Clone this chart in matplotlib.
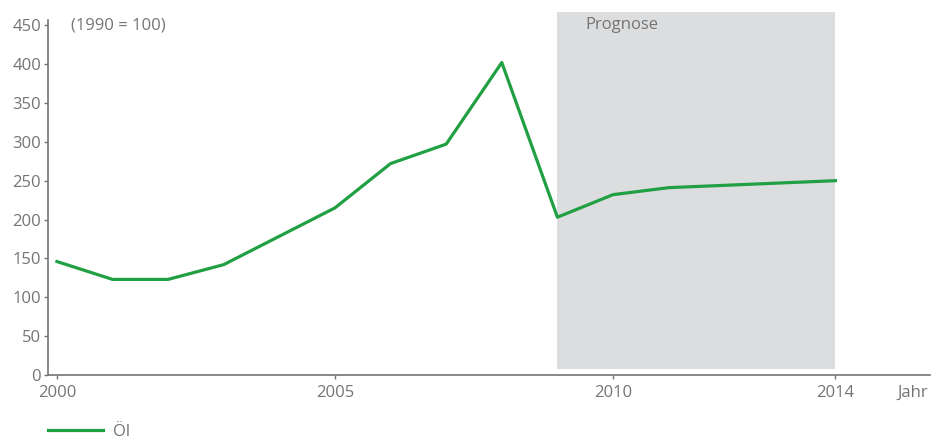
import matplotlib
matplotlib.use('Agg')
import matplotlib.pyplot as plt

# data (index, 1990 = 100)
years = [2000, 2001, 2002, 2003, 2005, 2006, 2007, 2008, 2009, 2010, 2011, 2014]
oil = [146, 123, 123, 142, 215, 272, 297, 402, 203, 232, 241, 250]
forecast_start = 2009
forecast_end = 2014
xticks = [2000, 2005, 2010, 2014]
yticks = list(range(0, 451, 50))

grey = '#747474'
green = '#21a043'

plt.rcParams['font.family'] = ['Open Sans', 'DejaVu Sans']
plt.rcParams['font.size'] = 12

fig = plt.figure(figsize=(9.31, 4.43), dpi=100)
ax = fig.add_axes([48/931, 68/443, 882/931, 363/443])

# forecast area
ax.axvspan(forecast_start, forecast_end, ymin=8/467, ymax=1, color='#dcdddf', lw=0, zorder=0)
ax.text(forecast_start + 0.5, 450, 'Prognose', color=grey, va='center', ha='left')

ax.plot(years, oil, color=green, lw=2.3, label='Öl', zorder=3)

ax.set_xlim(1999.84, 2015.7)
ax.set_ylim(0, 467)
ax.set_xticks(xticks)
ax.set_yticks(yticks)

for s in ['top', 'right']:
    ax.spines[s].set_visible(False)
for s in ['left', 'bottom']:
    ax.spines[s].set_color(grey)
    ax.spines[s].set_linewidth(1.2)
ax.spines['left'].set_bounds(0, 457)
ax.tick_params(colors=grey, length=3, width=1, labelsize=12)
ax.tick_params(axis='x', pad=4)
ax.tick_params(axis='y', pad=2)

ax.text(2000.25, 450, '(1990 = 100)', color=grey, va='center', ha='left')
fig.text(928/931, 1 - 393/443, 'Jahr', color=grey, ha='right', va='center', fontsize=12)

leg = fig.legend(loc='center left', bbox_to_anchor=(48/931, 11/443), frameon=False,
                 borderpad=0, borderaxespad=0, handlelength=3.3, handletextpad=0.6)
for t in leg.get_texts():
    t.set_color(grey)

fig.savefig('out.png', dpi=100)
